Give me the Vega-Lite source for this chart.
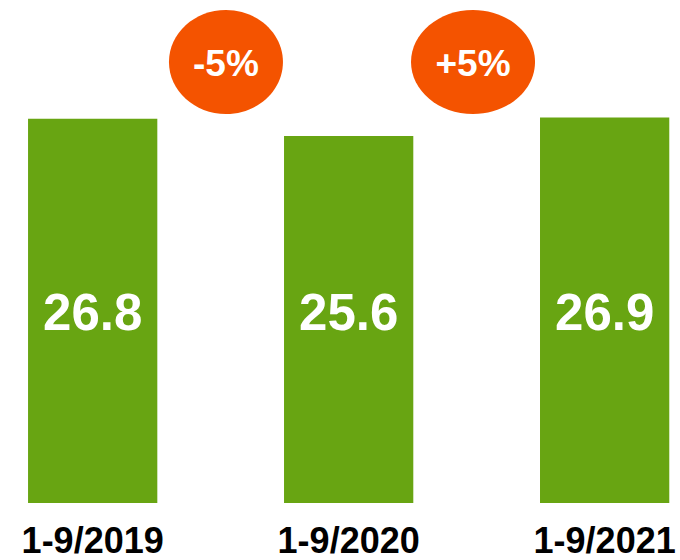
{
  "$schema": "https://vega.github.io/schema/vega-lite/v6.json",
  "autosize": "none",
  "width": 680,
  "height": 503,
  "padding": {"top": 0, "left": 0, "right": 0, "bottom": 57},
  "background": "#ffffff",
  "config": {"view": {"stroke": null}},
  "datasets": {
    "bars": [
      {"period": "1-9/2019", "value": 26.8},
      {"period": "1-9/2020", "value": 25.6},
      {"period": "1-9/2021", "value": 26.9}
    ],
    "changes": [
      {"period": "1-9/2019", "change": "-5%"},
      {"period": "1-9/2020", "change": "+5%"}
    ]
  },
  "encoding": {
    "x": {
      "field": "period",
      "type": "nominal",
      "sort": null,
      "scale": {
        "domain": ["1-9/2019", "1-9/2020", "1-9/2021"],
        "paddingInner": 0.495,
        "paddingOuter": 0.0757,
        "align": 0.7235
      },
      "axis": {
        "title": null,
        "domain": false,
        "ticks": false,
        "tickSize": 0,
        "grid": false,
        "labelAngle": 0,
        "labelFont": "Liberation Sans",
        "labelFontSize": 36,
        "labelFontWeight": "bold",
        "labelColor": "#000000",
        "labelPadding": 49,
        "labelBaseline": "alphabetic"
      }
    }
  },
  "layer": [
    {
      "data": {"name": "bars"},
      "mark": {"type": "bar", "color": "#68A512"},
      "encoding": {
        "y": {
          "field": "value",
          "type": "quantitative",
          "scale": {"domain": [0, 35.09], "nice": false, "zero": true},
          "axis": null
        }
      }
    },
    {
      "data": {"name": "bars"},
      "mark": {
        "type": "text",
        "color": "#ffffff",
        "font": "Liberation Sans",
        "fontSize": 51,
        "fontWeight": "bold",
        "align": "center",
        "baseline": "middle"
      },
      "encoding": {
        "y": {"datum": 13.11, "type": "quantitative"},
        "text": {"field": "value", "type": "quantitative", "format": ".1f"}
      }
    },
    {
      "data": {"name": "changes"},
      "transform": [{"filter": "datum.change === '-5%'"}],
      "mark": {
        "type": "point",
        "filled": true,
        "color": "#F45300",
        "opacity": 1,
        "strokeWidth": 0,
        "shape": "M-1,0A1,0.912,0,1,0,1,0A1,0.912,0,1,0,-1,0Z",
        "size": 12996
      },
      "encoding": {
        "x": {"field": "period", "type": "nominal", "bandPosition": 1.531},
        "y": {"datum": 30.76, "type": "quantitative"}
      }
    },
    {
      "data": {"name": "changes"},
      "transform": [{"filter": "datum.change === '+5%'"}],
      "mark": {
        "type": "point",
        "filled": true,
        "color": "#F45300",
        "opacity": 1,
        "strokeWidth": 0,
        "shape": "M-1,0A1,0.839,0,1,0,1,0A1,0.839,0,1,0,-1,0Z",
        "size": 15376
      },
      "encoding": {
        "x": {"field": "period", "type": "nominal", "bandPosition": 1.462},
        "y": {"datum": 30.76, "type": "quantitative"}
      }
    },
    {
      "data": {"name": "changes"},
      "transform": [{"filter": "datum.change === '-5%'"}],
      "mark": {
        "type": "text",
        "color": "#ffffff",
        "font": "Liberation Sans",
        "fontSize": 37,
        "fontWeight": "bold",
        "align": "center",
        "baseline": "middle"
      },
      "encoding": {
        "x": {"field": "period", "type": "nominal", "bandPosition": 1.531},
        "y": {"datum": 30.55, "type": "quantitative"},
        "text": {"field": "change", "type": "nominal"}
      }
    },
    {
      "data": {"name": "changes"},
      "transform": [{"filter": "datum.change === '+5%'"}],
      "mark": {
        "type": "text",
        "color": "#ffffff",
        "font": "Liberation Sans",
        "fontSize": 37,
        "fontWeight": "bold",
        "align": "center",
        "baseline": "middle"
      },
      "encoding": {
        "x": {"field": "period", "type": "nominal", "bandPosition": 1.462},
        "y": {"datum": 30.55, "type": "quantitative"},
        "text": {"field": "change", "type": "nominal"}
      }
    }
  ]
}
